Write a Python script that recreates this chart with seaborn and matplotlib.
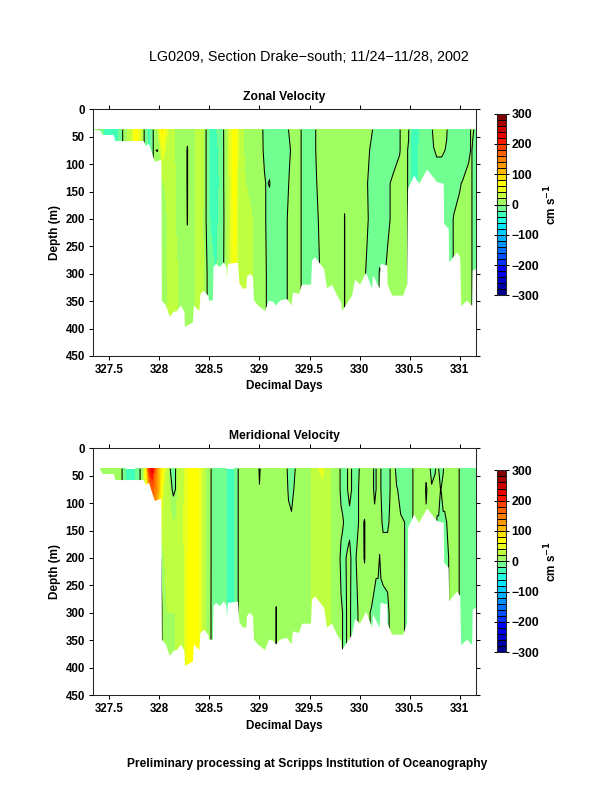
import numpy as np
import matplotlib
matplotlib.use('Agg')
import matplotlib.pyplot as plt
from matplotlib.colors import ListedColormap
import seaborn as sns

# colour bands, -300 to 300 in steps of 20
band_colors = ['#00008b', '#0000a8', '#0000c8', '#0000e0', '#0000ff',
               '#0030ff', '#0050ff', '#0070ff', '#0090ff', '#00b0ff',
               '#00ccff', '#00e8ff', '#20ffe0', '#40ffb8', '#70ff90',
               '#a0ff60', '#c0ff40', '#e8ff20', '#ffff00', '#ffe000',
               '#ffb800', '#ff9800', '#ff8000', '#ff6000', '#ff4000',
               '#ff1800', '#ee0000', '#cc0000', '#a80000', '#800000']
band_levels = list(range(-300, 301, 20))
bar_ticks = [300, 200, 100, 0, -100, -200, -300]
bar_labels = ['300', '200', '100', '0', '\u2212100', '\u2212200', '\u2212300']

day_ticks = [327.5, 328, 328.5, 329, 329.5, 330, 330.5, 331]
day_labels = ['327.5', '328', '328.5', '329', '329.5', '330', '330.5', '331']
depth_ticks = [0, 50, 100, 150, 200, 250, 300, 350, 400, 450]

# depth of each value in a column below
depths = [37, 75, 135, 200, 300]

zonal_days = [
    327.35, 327.395, 327.41, 327.45, 327.58, 327.625, 327.655, 327.70, 327.74, 327.76,
    327.78, 327.82, 327.845, 327.86, 327.90, 327.925, 327.94, 327.98, 328.0, 328.03,
    328.07, 328.12, 328.17, 328.24, 328.28, 328.30, 328.35, 328.38, 328.42, 328.45,
    328.465, 328.48, 328.51, 328.56, 328.62, 328.64, 328.66, 328.69, 328.72, 328.745,
    328.77, 328.79, 328.85, 328.92, 328.98, 329.03, 329.05, 329.075, 329.10, 329.13,
    329.2, 329.24, 329.27, 329.30, 329.32, 329.36, 329.41, 329.44, 329.5, 329.55,
    329.58, 329.61, 329.7, 329.84, 329.85, 329.87, 329.95, 330.05, 330.06, 330.08,
    330.10, 330.13, 330.16, 330.2, 330.25, 330.28, 330.305, 330.34, 330.40, 330.42,
    330.47, 330.49, 330.52, 330.57, 330.61, 330.68, 330.725, 330.74, 330.77, 330.82,
    330.87, 330.89, 330.92, 330.94, 331.0, 331.03, 331.09, 331.115, 331.13, 331.15, 331.2]

zonal_columns = [
    [10] * 5, [2] * 5, [-8] * 5, [-25] * 5, [-25] * 5, [-4] * 5, [10] * 5, [25] * 5, [45] * 5, [65] * 5,
    [62] * 5, [30] * 5, [2] * 5, [-8] * 5, [-28] * 5, [-10] * 5, [1] * 5,
    [15, -0.5, 15, 15, 15], [50, 15, 15, 12, 12], [85, 50, 18, 12, 12],
    [45, 35, 22, 18, 18], [30, 30, 28, 28, 30], [15, 15, 18, 18, 22], [10, 8, 8, 8, 10],
    [4, -1, -1, -0.5, 4], [8, 8, 8, 8, 8], [16, 18, 18, 18, 18], [28, 28, 28, 25, 25],
    [32, 32, 32, 28, 28], [12, 12, 12, 12, 14],
    [1, 1, 1, 1, 4], [-8, -8, -8, -8, -1], [-25, -22, -22, -22, -10], [-22, -28, -30, -25, -22],
    [-12, -12, -14, -14, -12], [-1, -1, -1, -2, -1], [10, 6, 6, 6, 8], [28, 28, 28, 28, 28],
    [55, 55, 50, 45, 45], [72, 72, 70, 65, 65],
    [65, 65, 60, 55, 50], [35, 35, 30, 30, 30], [18, 18, 22, 25, 28], [12, 12, 12, 22, 22],
    [8, 8, 8, 8, 8], [1, 1, 2, 2, 4], [-5, -2, 1, 1, 3], [-8, -8, -1, -1, -1],
    [-8, -8, 1, -8, -8], [-10, -8, -6, -8, -8],
    [-22, -10, -10, -10, -10], [-10, -8, -6, -6, -6], [-2, -5, -3, -1, -1], [1, -1, 1, 3, 3],
    [3, 1, 3, 3, 3], [4, 4, 4, 4, 3], [1, 1, 1, 1, 1], [-4, -4, -4, -4, -4], [-10] * 5,
    [-2, -2, -3, -3, -8],
    [3, 3, 1, -1, -3], [6, 6, 5, 3, 1], [10] * 5, [10] * 5, [10, 10, 6, -1, -1], [10] * 5,
    [10] * 5, [8, 8, 6, 5, 3], [5, 4, 3, 3, 0], [4, 2, 0, 1, -3],
    [3, 0, -3, -2, -5], [0, -4, -6, -6, -8], [-5, -8, -8, -8, -8], [-10, -10, -10, -8, 1],
    [-10, -10, -8, -5, -1], [-10, -10, -3, -3, 3], [-10, -8, 0, 0, 3], [-10, -6, 3, 3, 3],
    [-1, -1, 6, 6, 6], [3, 3, 8, 8, 8],
    [1, 1, 3, 5, 5], [1, -1, -3, -3, -3], [-25, -28, -25, -25, -25], [-28, -25, -25, -25, -25],
    [-18, -15, -15, -15, -15], [-10] * 5, [-1, -8, -10, -10, -10], [6, -1, -10, -10, -10],
    [5, 2, -8, -8, -8], [8, 2, -8, -8, -8],
    [1, -1, -8, -8, -8], [-3, -8, -8, -8, -8], [-10, -10, -10, -3, -3], [-10, -10, -8, 1, 1],
    [-10, -10, -1, 3, 3], [-10, -10, 1, 5, 5], [-3, -3, 5, 5, 5], [1] * 5,
    [1, -1, -1, -1, -1], [-1, -5, -5, -5, -5], [-5] * 5]

meridional_days = [
    327.41, 327.50, 327.60, 327.625, 327.64, 327.67, 327.72, 327.76, 327.795, 327.81,
    327.84, 327.87, 327.90, 327.93, 327.96, 327.99, 328.01, 328.025, 328.04, 328.08,
    328.105, 328.125, 328.14, 328.165, 328.19, 328.24, 328.27, 328.30, 328.38, 328.40,
    328.44, 328.47, 328.515, 328.53, 328.60, 328.66, 328.70, 328.73, 328.765, 328.785,
    328.80, 328.985, 329.0, 329.02, 329.16, 329.167, 329.175, 329.25, 329.275, 329.29,
    329.32, 329.345, 329.36, 329.45, 329.5, 329.53, 329.56, 329.63, 329.66, 329.70,
    329.72, 329.78, 329.80, 329.815, 329.83, 329.85, 329.865, 329.88, 329.90, 329.92,
    329.94, 329.965, 329.99, 330.01, 330.05, 330.09, 330.12, 330.14, 330.15, 330.165,
    330.185, 330.2, 330.213, 330.235, 330.28, 330.30, 330.32, 330.355, 330.37, 330.41,
    330.45, 330.48, 330.53, 330.54, 330.60, 330.65, 330.665, 330.68, 330.695, 330.72,
    330.755, 330.775, 330.79, 330.81, 330.835, 330.85, 330.87, 330.89, 330.93, 330.96,
    330.99, 331.01, 331.03, 331.2]

meridional_columns = [
    [15] * 5, [15] * 5, [8] * 5, [1] * 5, [-5] * 5, [-22] * 5, [-30] * 5, [-22] * 5, [-5] * 5, [1] * 5,
    [15] * 5, [80, 50, 50, 50, 50], [210, 120, 120, 120, 120], [230, 170, 170, 170, 170],
    [160, 150, 100, 100, 100], [110, 110, 70, 70, 70], [90, 90, 60, -1, -1],
    [70, 60, 30, 3, -0.5], [50, 40, 28, 18, 12], [30, 25, 28, 25, 20],
    [1, 18, 25, 25, 20], [-5, 1, 22, 25, 20], [-8, -5, 20, 25, 20], [1, 1, 22, 25, 20],
    [28, 28, 30, 25, 22], [35, 35, 40, 35, 30], [48, 48, 50, 50, 50], [65, 65, 65, 70, 70],
    [72] * 5, [50] * 5,
    [30] * 5, [15] * 5, [1, 1, 1, 1, 0.5], [-8] * 5, [-15] * 5, [-18] * 5, [-32] * 5, [-28] * 5,
    [-10] * 5, [-1] * 5,
    [5] * 5, [6] * 5, [-3, 1, 8, 8, 8], [6, 8, 8, 8, 8], [8] * 5, [8, 8, 8, 8, -1], [8] * 5, [8] * 5,
    [1, 4, 8, 8, 8], [-8, -3, 6, 8, 8],
    [-8, -6, 3, 8, 8], [-4, 0.5, 8, 8, 8], [1, 6, 8, 8, 8], [10] * 5, [15] * 5, [25] * 5, [32] * 5,
    [50, 30, 30, 30, 30], [30] * 5, [25] * 5,
    [18] * 5, [8] * 5, [1, 1, 3, 1, 2], [-2, -2, 2, -2, 1], [-3, -3, 1, -3, 0], [-3, -3, -1, -3, -2],
    [-2, -2, -2, 0, -1], [0, 0, -3, 1, 2], [2, 2, -2, 2, 1], [0, 0, -1, -1, -1],
    [-3, -3, 0, -3, -3], [-3, -3, -3, 0, -3], [-1, 0, 0, 1, 1], [2, 2, 2, 3, 2],
    [5, 5, -0.5, -0.5, 5], [8, 8, 8, 8, 1], [3, 5, 8, 8, -1], [0, 0, 6, 8, -4], [-3, -4, 5, 6, -5],
    [0, 0, 6, 3, -5],
    [4, 4, 6, 3, -5], [2, 2, 5, -0.5, -5], [0, 0, 2, 3, -5], [-5, -5, -2, 5, -5], [-5, -5, -2, 5, -3],
    [-1, -1, 1, 5, 1], [3, 3, 4, 6, 4], [1, 3, 5, 6, 6], [-5, 1, 5, 5, 5], [-8, -3, 1, 1, 1],
    [-10, -8, 0, 0, 0], [-10, -8, -3, -3, -3], [-1, -1, -1, -1, -1], [3] * 5, [5] * 5, [6] * 5,
    [8, -4, 5, 5, 5], [6, 4, 5, 5, 5], [2, 6, 5, 5, 5], [-3, 1, 5, 5, 5],
    [-1, 3, 5, 5, 5], [3, 6, -1.5, -3, -3], [0, 6, -1.5, -3, -3], [-4, -0.5, -1.5, -3, -3],
    [-1, 3, -1.5, -3, -3], [3, 6, -3, -3, -3], [5, 6, 0, -2, -2], [6, 6, 3, 0, 0], [8, 8, 6, 3, 3],
    [6] * 5,
    [1] * 5, [-3] * 5, [-12] * 5, [-12] * 5]

# lower edge of the data, same for both sections
bottom_days = [
    327.34, 327.40, 327.43, 327.54, 327.555, 327.84, 327.86, 327.89, 327.95, 328.0, 328.015, 328.02,
    328.06, 328.10, 328.135, 328.17, 328.21, 328.245, 328.25, 328.33, 328.34, 328.395, 328.405,
    328.44, 328.485, 328.49, 328.53, 328.535, 328.56, 328.60, 328.64, 328.665, 328.67, 328.68,
    328.78, 328.795, 328.83, 328.865, 328.87, 328.9, 328.93, 328.94, 328.98, 329.05, 329.09,
    329.13, 329.16, 329.2, 329.27, 329.315, 329.33, 329.39, 329.42, 329.51, 329.52, 329.55,
    329.64, 329.67, 329.72, 329.77, 329.81, 329.82, 329.92, 329.95, 330.0, 330.06, 330.12,
    330.13, 330.195, 330.205, 330.27, 330.275, 330.32, 330.43, 330.47, 330.48, 330.54, 330.59,
    330.67, 330.77, 330.835, 330.84, 330.885, 330.89, 330.97, 331.0, 331.01, 331.07, 331.12,
    331.125, 331.2]
bottom_depths = [
    37, 37, 46, 46, 57, 57, 66, 62, 95, 92, 92, 348,
    357, 378, 369, 367, 357, 368, 396, 388, 357, 367, 336,
    330, 340, 348, 348, 287, 281, 287, 278, 287, 308, 281,
    279, 317, 326, 326, 305, 299, 305, 348, 357, 367, 348,
    350, 357, 348, 345, 357, 333, 336, 319, 319, 275, 269,
    290, 326, 319, 339, 351, 367, 339, 310, 319, 297, 326,
    302, 326, 281, 284, 319, 339, 339, 319, 144, 120, 135,
    109, 132, 135, 208, 217, 278, 260, 269, 358, 348, 358,
    293, 287]


def draw_section(fig, box, bar_box, days, columns, title):
    ax = fig.add_axes(box)
    field = np.array(columns, dtype=float).T
    field = np.vstack([field, field[-1]])
    grid_depths = depths + [400]

    ax.contourf(days, grid_depths, field, levels=band_levels, colors=band_colors, antialiased=False)
    ax.contour(days, grid_depths, field, levels=[0], colors='black', linewidths=0.75)
    ax.fill_between(bottom_days, bottom_depths, 450, color='white', linewidth=0, zorder=3)

    ax.set_xlim(327.34, 331.16)
    ax.set_ylim(450, 0)
    ax.set_xticks(day_ticks, day_labels)
    ax.set_yticks(depth_ticks)
    ax.tick_params(top=True, right=True, direction='out', length=3, width=0.75, pad=3, labelsize=8.3)
    for label in ax.get_xticklabels() + ax.get_yticklabels():
        label.set_fontweight('bold')
    for spine in ax.spines.values():
        spine.set_linewidth(0.75)
        spine.set_zorder(5)
    ax.set_title(title, fontsize=8.7, fontweight='bold', pad=7)
    ax.set_xlabel('Decimal Days', fontsize=8.5, fontweight='bold', labelpad=3)
    ax.set_ylabel('Depth (m)', fontsize=8.5, fontweight='bold', labelpad=3)

    # colour bar drawn as a one column heatmap
    cax = fig.add_axes(bar_box)
    mids = np.array(band_levels[:-1]) + 10
    sns.heatmap(mids[::-1].reshape(-1, 1), ax=cax, cmap=ListedColormap(band_colors), vmin=-300, vmax=300,
                cbar=False, linewidths=0.7, linecolor='black', xticklabels=False, yticklabels=False)
    cax.yaxis.tick_right()
    cax.set_yticks([(300 - t) / 20 for t in bar_ticks], bar_labels, rotation=0)
    cax.tick_params(axis='y', left=True, right=True, direction='out', length=2.5, width=0.75, pad=1.5, labelsize=8.8)
    for label in cax.get_yticklabels():
        label.set_fontweight('bold')
    for spine in cax.spines.values():
        spine.set_visible(True)
        spine.set_linewidth(0.75)
    cax.text(5.84, 0.5, 'cm s$^{\\mathbf{-1}}$', rotation=90, fontsize=8.5, fontweight='bold',
             ha='center', va='center', transform=cax.transAxes)
    return ax


sns.set_style('ticks')
plt.rcParams['font.family'] = ['Liberation Sans', 'DejaVu Sans']
plt.rcParams['mathtext.default'] = 'bf'
plt.rcParams['text.color'] = 'black'
plt.rcParams['axes.labelcolor'] = 'black'
plt.rcParams['xtick.color'] = 'black'
plt.rcParams['ytick.color'] = 'black'

W, H = 612, 792
fig = plt.figure(figsize=(W / 100, H / 100), dpi=100)


def box_from_pixels(left, top, right, bottom):
    return [left / W, 1 - bottom / H, (right - left) / W, (bottom - top) / H]


draw_section(fig, box_from_pixels(93.3, 109.3, 475.7, 356), box_from_pixels(496.7, 113.7, 506, 295.3),
             zonal_days, zonal_columns, 'Zonal Velocity')
draw_section(fig, box_from_pixels(93.3, 448.3, 475.7, 695), box_from_pixels(496.7, 470.3, 506, 652.3),
             meridional_days, meridional_columns, 'Meridional Velocity')

fig.text(309 / W, 1 - 57 / H, 'LG0209, Section Drake\u2212south; 11/24\u221211/28, 2002', fontsize=10.4,
         ha='center', va='center')
fig.text(307 / W, 1 - 764 / H, 'Preliminary processing at Scripps Institution of Oceanography', fontsize=8.65,
         fontweight='bold', ha='center', va='center')

fig.savefig('out.png', dpi=100)
